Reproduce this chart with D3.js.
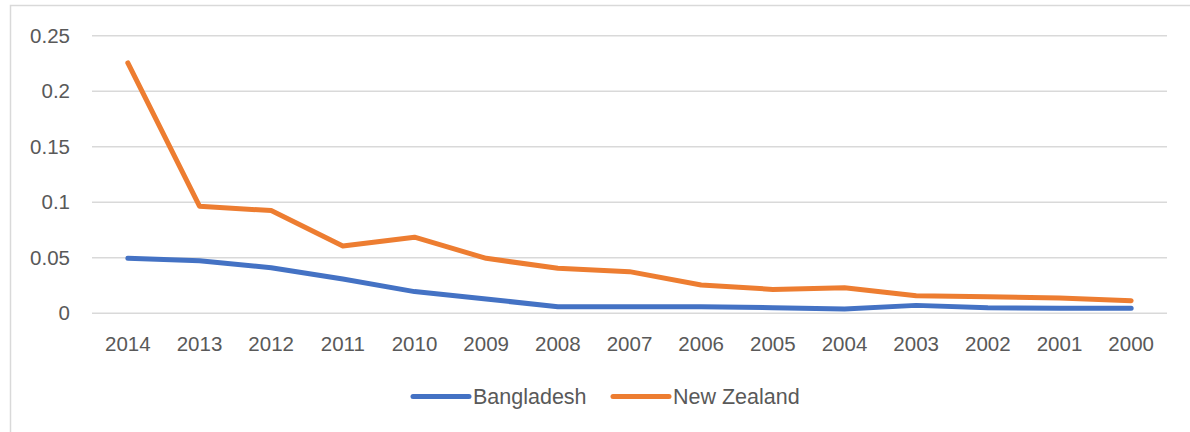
<!DOCTYPE html>
<html>
<head>
<meta charset="utf-8">
<script src="https://cdn.jsdelivr.net/npm/d3@7"></script>
<style>
  html, body { margin: 0; padding: 0; background: #fff; }
  svg { display: block; }
  text { font-family: "Liberation Sans", "DejaVu Sans", sans-serif; fill: #595959; }
</style>
</head>
<body>
<svg id="chart" width="1190" height="432"></svg>
<script>
// Years, in display order (newest first)
const years = ["2014","2013","2012","2011","2010","2009","2008","2007","2006","2005","2004","2003","2002","2001","2000"];
const bangladesh = [0.049,0.0468,0.0405,0.0303,0.019,0.0123,0.0054,0.0054,0.0054,0.0045,0.0033,0.0066,0.0045,0.004,0.004];
const newZealand = [0.225,0.096,0.092,0.060,0.068,0.049,0.040,0.037,0.025,0.021,0.0225,0.0153,0.0144,0.0132,0.0108];
const yTicks = [0, 0.05, 0.1, 0.15, 0.2, 0.25];
const yTickLabels = ["0", "0.05", "0.1", "0.15", "0.2", "0.25"];
const seriesNames = ["Bangladesh", "New Zealand"];
const seriesColors = ["#4472C4", "#ED7D31"];

const svg = d3.select("#chart");

// outer chart frame
svg.append("rect")
  .attr("x", 10.5).attr("y", 5.5)
  .attr("width", 1200).attr("height", 460)
  .attr("fill", "none").attr("stroke", "#d9d9d9").attr("stroke-width", 1.5);

const plot = { left: 92, right: 1167, top: 35.2, bottom: 312.7 };

const x = d3.scaleBand().domain(years).range([plot.left, plot.right]);
const y = d3.scaleLinear().domain([0, 0.25]).range([plot.bottom, plot.top]);

// horizontal gridlines
const yAxis = d3.axisLeft(y).tickValues(yTicks)
  .tickSize(-(plot.right - plot.left))
  .tickFormat((d, i) => yTickLabels[i]);
const gy = svg.append("g").attr("transform", `translate(${plot.left},0)`).call(yAxis);
gy.select(".domain").remove();
gy.selectAll(".tick line").attr("stroke", "#d9d9d9").attr("stroke-width", 1.5);
gy.selectAll(".tick text")
  .attr("x", -22).attr("dy", "0.35em")
  .style("font-size", "20.5px").attr("fill", "#595959");

// category axis labels
const xAxis = d3.axisBottom(x).tickSize(0);
const gx = svg.append("g").attr("transform", `translate(0,${plot.bottom})`).call(xAxis);
gx.select(".domain").remove();
gx.selectAll(".tick text")
  .attr("y", 31).attr("dy", "0.35em")
  .style("font-size", "20.5px").attr("fill", "#595959");

const line = d3.line()
  .x((d, i) => x(years[i]) + x.bandwidth() / 2)
  .y(d => y(d));

[bangladesh, newZealand].forEach((vals, k) => {
  svg.append("path")
    .datum(vals)
    .attr("d", line)
    .attr("fill", "none")
    .attr("stroke", seriesColors[k])
    .attr("stroke-width", 5)
    .attr("stroke-linejoin", "round")
    .attr("stroke-linecap", "round");
});

// legend
const legendX = [413, 613];
const legendY = 396.5;
seriesNames.forEach((name, k) => {
  const g = svg.append("g");
  g.append("line")
    .attr("x1", legendX[k]).attr("x2", legendX[k] + 56)
    .attr("y1", legendY).attr("y2", legendY)
    .attr("stroke", seriesColors[k]).attr("stroke-width", 5)
    .attr("stroke-linecap", "round");
  g.append("text")
    .attr("x", legendX[k] + 60).attr("y", legendY)
    .attr("dy", "0.35em")
    .style("font-size", "21.5px")
    .text(name);
});
</script>
</body>
</html>
